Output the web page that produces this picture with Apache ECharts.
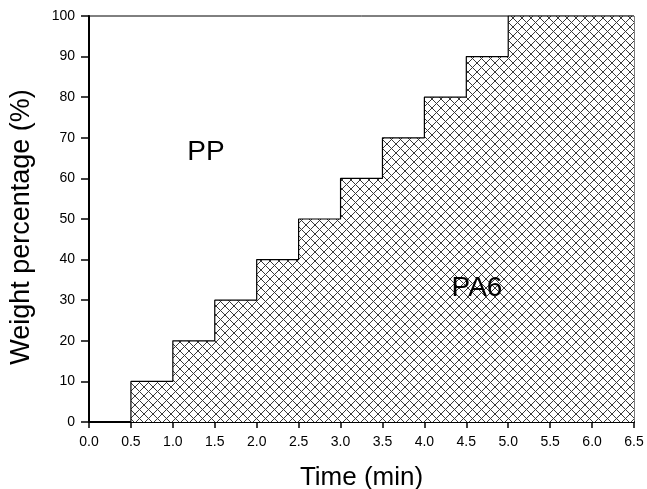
<!DOCTYPE html>
<html>
<head>
<meta charset="utf-8">
<script src="https://cdn.jsdelivr.net/npm/echarts@6/dist/echarts.min.js"></script>
<style>
    html, body { margin: 0; padding: 0; background: #fff; }
    #chart { width: 647px; height: 489px; }
</style>
</head>
<body>
<div id="chart"></div>
<script>
// step points: PA6 weight share changes every half minute
const timeMin = [0, 0.5, 1.0, 1.5, 2.0, 2.5, 3.0, 3.5, 4.0, 4.5, 5.0, 6.5]
const weightPA6 = [0, 10, 20, 30, 40, 50, 60, 70, 80, 90, 100, 100]
const regionLabels = ['PP', 'PA6']
const yTitle = 'Weight percentage (%)'

const FONT = 'Liberation Sans, Arial, sans-serif'

// crosshatch tile for the PA6 area
const makeHatch = () => {
    const size = 9
    const c = document.createElement('canvas')
    c.width = size
    c.height = size
    const ctx = c.getContext('2d')
    ctx.fillStyle = '#fff'
    ctx.fillRect(0, 0, size, size)
    ctx.strokeStyle = '#3a3a3a'
    ctx.lineWidth = 1
    ctx.beginPath()
    for (let o = -size; o <= size; o += size) {
        ctx.moveTo(o, 0)
        ctx.lineTo(o + size, size)
        ctx.moveTo(o + size, 0)
        ctx.lineTo(o, size)
    }
    ctx.stroke()
    return c
}

const chart = echarts.init(document.getElementById('chart'))

const tickStyle = (len) => ({
    show: true,
    inside: false,
    length: len,
    lineStyle: { color: '#000', width: 1.5, type: 'solid', opacity: 1 },
})

chart.setOption({
    animation: false,
    backgroundColor: '#fff',
    grid: {
        left: 89,
        right: 13,
        top: 16,
        bottom: 67,
        outerBoundsMode: 'none',
        containLabel: false,
        show: true,
        borderColor: '#000',
        borderWidth: 1,
    },
    xAxis: {
        type: 'value',
        min: 0,
        max: 6.5,
        interval: 0.5,
        name: 'Time (min)',
        nameLocation: 'middle',
        nameGap: 43,
        nameTextStyle: { fontFamily: FONT, fontSize: 26, color: '#000' },
        axisLine: { show: true, onZero: false, lineStyle: { color: '#000', width: 2 } },
        axisTick: tickStyle(6),
        axisLabel: {
            color: '#000',
            fontFamily: FONT,
            fontSize: 14,
            margin: 13,
            formatter: (v) => v.toFixed(1),
        },
        splitLine: { show: false },
    },
    yAxis: {
        type: 'value',
        min: 0,
        max: 100,
        interval: 10,
        axisLine: { show: true, lineStyle: { color: '#000', width: 2 } },
        axisTick: tickStyle(8),
        axisLabel: { color: '#000', fontFamily: FONT, fontSize: 14, margin: 14 },
        splitLine: { show: false },
    },
    series: [
        {
            type: 'line',
            step: 'end',
            data: timeMin.map((t, i) => [t, weightPA6[i]]),
            symbol: 'none',
            lineStyle: { color: '#000', width: 1.2 },
            areaStyle: {
                opacity: 1,
                color: { image: makeHatch(), repeat: 'repeat' },
            },
            z: 1,
        },
    ],
    graphic: [
        {
            type: 'text',
            x: 22,
            y: 227,
            rotation: Math.PI / 2,
            z: 100,
            style: {
                text: yTitle,
                font: '27px ' + FONT,
                fill: '#000',
                align: 'center',
                verticalAlign: 'middle',
            },
        },
        {
            type: 'text',
            x: 206,
            y: 152,
            z: 100,
            style: {
                text: regionLabels[0],
                font: '28px ' + FONT,
                fill: '#000',
                align: 'center',
                verticalAlign: 'middle',
            },
        },
        {
            type: 'text',
            x: 477,
            y: 288,
            z: 100,
            style: {
                text: regionLabels[1],
                font: '28px ' + FONT,
                fill: '#000',
                align: 'center',
                verticalAlign: 'middle',
            },
        },
    ],
})
</script>
</body>
</html>
